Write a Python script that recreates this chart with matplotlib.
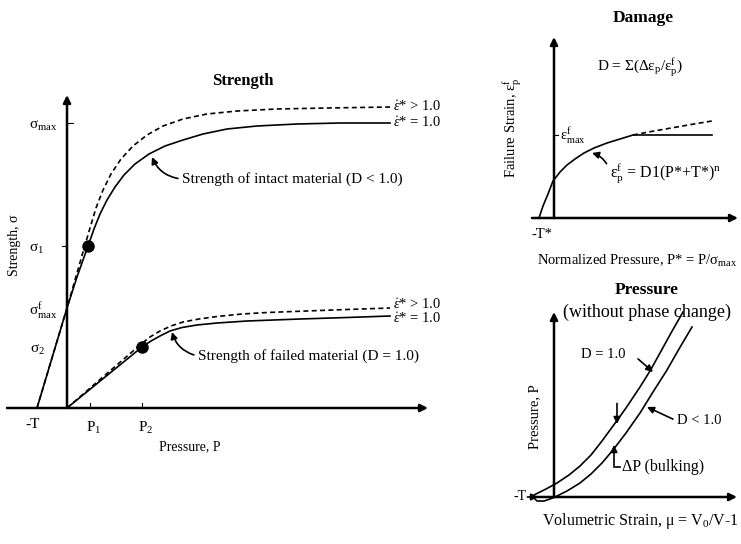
import matplotlib
matplotlib.use("Agg")
import matplotlib.pyplot as plt

plt.rcParams['font.family'] = 'Liberation Serif'
plt.rcParams['mathtext.fontset'] = 'custom'
plt.rcParams['mathtext.rm'] = 'Liberation Serif'
plt.rcParams['mathtext.it'] = 'Liberation Serif:italic'
plt.rcParams['mathtext.bf'] = 'Liberation Serif:bold'

W, H = 741, 544

# --- Strength panel (offsets from origin, arbitrary units) ---
intact_x = [-30, 0, 10, 21, 27, 33, 40, 48, 57, 68, 82, 98, 116, 136, 160, 190, 230, 273, 323]
intact_y = [0, 100, 131, 162, 179, 194, 208, 221, 233, 244, 254, 262, 268, 274, 279, 282, 284, 285, 285]
intact_fast_x = [-30, 0, 8, 16, 23, 29, 36, 44, 54, 66, 80, 96, 116, 140, 170, 210, 260, 323]
intact_fast_y = [0, 100, 128, 156, 180, 200, 218, 234, 249, 262, 273, 282, 289, 294, 297, 299, 300, 301]
failed_x = [0, 75, 84, 93, 103, 115, 130, 150, 180, 233, 280, 323]
failed_y = [0, 61, 67, 72, 77, 80.5, 83, 85, 87, 89, 90.5, 92]
failed_fast_x = [0, 73, 83, 93, 104, 116, 132, 150, 175, 200, 266, 323]
failed_fast_y = [0, 63, 71, 77, 82, 86, 89, 91.5, 94, 95.5, 98, 100]
p_ticks = [23, 75]            # P1, P2
p_tick_labels = ['P$_1$', 'P$_2$']
neg_T = -30
sig_ticks = [285, 162, 100, 61]
sig_labels = ['σ$_{\\mathrm{max}}$', 'σ$_1$', 'σ$^{\\mathrm{f}}_{\\mathrm{max}}$', 'σ$_2$']
dots_x = [21, 75]
dots_y = [162, 61]

# --- Damage panel ---
dmg_x = [-15, -11, -6, -1, 6, 13, 21, 30, 40, 53, 66, 79, 158]
dmg_y = [0, 12, 24, 37, 46, 53, 59, 65, 70, 75, 79, 83, 83]
dmg_fast_x = [79, 100, 120, 140, 158]
dmg_fast_y = [83, 87, 90.5, 94, 97]
eps_max = 83

# --- Pressure panel ---
p_d1_x = [-20, -8, 3, 15, 26, 37, 48, 59, 72, 86, 96, 106, 117, 129]
p_d1_y = [2, 8, 14, 22, 31, 42, 56, 71, 89, 110, 126, 144, 164, 185]
p_dl_x = [-21, -17, -10, -4, 1, 13, 26, 37, 48, 59, 72, 86, 99, 113, 125, 138]
p_dl_y = [0, -4, -4, -2, 0, 6, 14, 23, 34, 47, 64, 84, 105, 127, 148, 170]


def panel(ox, oy, x0, y0, x1, y1):
    ax = fig.add_axes([x0 / W, (H - y1) / H, (x1 - x0) / W, (y1 - y0) / H])
    ax.set_xlim(x0 - ox, x1 - ox)
    ax.set_ylim(oy - y1, oy - y0)
    ax.axis('off')
    return ax


def px(x, y):
    return x / W, 1 - y / H


def arrow_axis(ax, x_from, x_to, y_top):
    kw = dict(arrowstyle='-|>', color='black', lw=1.8, mutation_scale=11,
              shrinkA=0, shrinkB=0)
    ax.annotate('', xy=(x_to, 0), xytext=(x_from, 0), arrowprops=kw)
    ax.annotate('', xy=(0, y_top), xytext=(0, 0), arrowprops=kw)


def note(text, xy, xytext, rad=0.3, **kw):
    fig.add_artist(plt.Annotation(
        text, xy=px(*xy), xytext=px(*xytext), xycoords='figure fraction',
        textcoords='figure fraction', fontsize=kw.get('fontsize', 10),
        ha='left', va='center',
        arrowprops=dict(arrowstyle='-|>', color='black', lw=1.2,
                        mutation_scale=10, shrinkA=1, shrinkB=0,
                        relpos=(0, 0.5),
                        connectionstyle=f'arc3,rad={rad}')))


fig = plt.figure(figsize=(W / 100, H / 100), dpi=100)

# Strength
ax1 = panel(67, 408, 0, 60, 450, 500)
arrow_axis(ax1, -60, 361, 313)
ax1.plot(intact_x, intact_y, color='black', lw=1.2)
ax1.plot(intact_fast_x, intact_fast_y, color='black', lw=1.2, ls=(0, (3, 2)))
ax1.plot(failed_x, failed_y, color='black', lw=1.2)
ax1.plot(failed_fast_x, failed_fast_y, color='black', lw=1.2, ls=(0, (3, 2)))
ax1.plot(dots_x, dots_y, 'o', color='black', ms=8)
for p in p_ticks:
    ax1.plot([p, p], [0, 5], color='black', lw=0.8)
ax1.plot([0, 6], [sig_ticks[0]] * 2, color='black', lw=0.8)
ax1.plot([-5, 0], [sig_ticks[1]] * 2, color='black', lw=0.8)
for p, lab in zip(p_ticks, p_tick_labels):
    ax1.text(p + 4, -20, lab, ha='center', va='center', fontsize=11)
ax1.text(neg_T - 4, -17, '-T', ha='center', va='center', fontsize=11)
sig_x = [-24, -30, -24, -29]
for s, lab, sx in zip(sig_ticks, sig_labels, sig_x):
    ax1.text(sx, s - 3, lab, ha='center', va='center', fontsize=11)
ax1.text(123, -39, 'Pressure, P', ha='center', va='center', fontsize=10)
ax1.text(-52, 163, 'Strength, σ', ha='center', va='center', fontsize=10, rotation=90)
ax1.text(176, 327, 'Strength', ha='center', va='center', fontsize=12, fontweight='bold')
for y, lab in [(301, '$\\dot{ε}$* > 1.0'), (285, '$\\dot{ε}$* = 1.0'),
               (103, '$\\dot{ε}$* > 1.0'), (89, '$\\dot{ε}$* = 1.0')]:
    ax1.text(326, y, lab, ha='left', va='center', fontsize=10.5)
note('Strength of intact material (D < 1.0)', (152, 157), (182, 179), rad=-0.3, fontsize=11)
note('Strength of failed material (D = 1.0)', (172, 332), (198, 356), rad=-0.3, fontsize=11)

# Damage
ax2 = panel(554, 218, 500, 30, 741, 240)
arrow_axis(ax2, -22, 184, 181)
ax2.plot(dmg_x, dmg_y, color='black', lw=1.2)
ax2.plot(dmg_fast_x, dmg_fast_y, color='black', lw=1.2, ls=(0, (3, 2)))
ax2.plot([0, 4], [eps_max, eps_max], color='black', lw=0.8)
ax2.text(6, eps_max - 1, 'ε$^{\\mathrm{f}}_{\\mathrm{max}}$', ha='left', va='center', fontsize=10.5)
ax2.text(-12, -16, '-T*', ha='center', va='center', fontsize=10.5)
fig.text(*px(643, 18), 'Damage', ha='center', va='center', fontsize=12.5, fontweight='bold')
fig.text(*px(640, 68), 'D = Σ(Δε$_{\\mathrm{p}}$/ε$_{\\mathrm{p}}^{\\mathrm{f}}$)', ha='center', va='center', fontsize=11)
fig.text(*px(637, 261), 'Normalized Pressure, P* = P/σ$_{\\mathrm{max}}$', ha='center', va='center', fontsize=10.5)
fig.text(*px(513, 128), 'Failure Strain, ε$_{\\mathrm{p}}^{\\mathrm{f}}$', ha='center', va='center', fontsize=10.5, rotation=90)
note('ε$_{\\mathrm{p}}^{\\mathrm{f}}$ = D1(P*+T*)$^{\\mathrm{n}}$', (592, 153), (610, 173), rad=0.3, fontsize=11.5)

# Pressure
ax3 = panel(554, 497, 500, 300, 741, 510)
arrow_axis(ax3, -21, 183, 185)
ax3.plot(p_d1_x, p_d1_y, color='black', lw=1.2)
ax3.plot(p_dl_x, p_dl_y, color='black', lw=1.2)
fig.text(*px(647, 290), 'Pressure', ha='center', va='center', fontsize=12.5, fontweight='bold')
fig.text(*px(647, 312), '(without phase change)', ha='center', va='center', fontsize=13)
fig.text(*px(640, 521), 'Volumetric Strain, μ = V$_0$/V-1', ha='center', va='center', fontsize=11.5)
fig.text(*px(535, 417), 'Pressure, P', ha='center', va='center', fontsize=10.5, rotation=90)
fig.text(*px(603, 354), 'D = 1.0', ha='center', va='center', fontsize=10.5)
note('', (653, 372), (637, 358), rad=0.0)
note('D < 1.0', (647, 407), (677, 421), rad=0.0, fontsize=10.5)
note('', (617, 424), (617, 402), rad=0.0)
note('', (614, 445), (614, 467), rad=0.0)
fig.add_artist(plt.Line2D([614 / W, 620 / W], [1 - 467 / H] * 2, color='black', lw=1.2))
fig.text(*px(622, 467), 'ΔP (bulking)', ha='left', va='center', fontsize=11.5)
fig.text(*px(520, 497), '-T', ha='center', va='center', fontsize=10)
note('', (538, 497), (526, 497), rad=0.0)

fig.savefig('out.png', dpi=100)
